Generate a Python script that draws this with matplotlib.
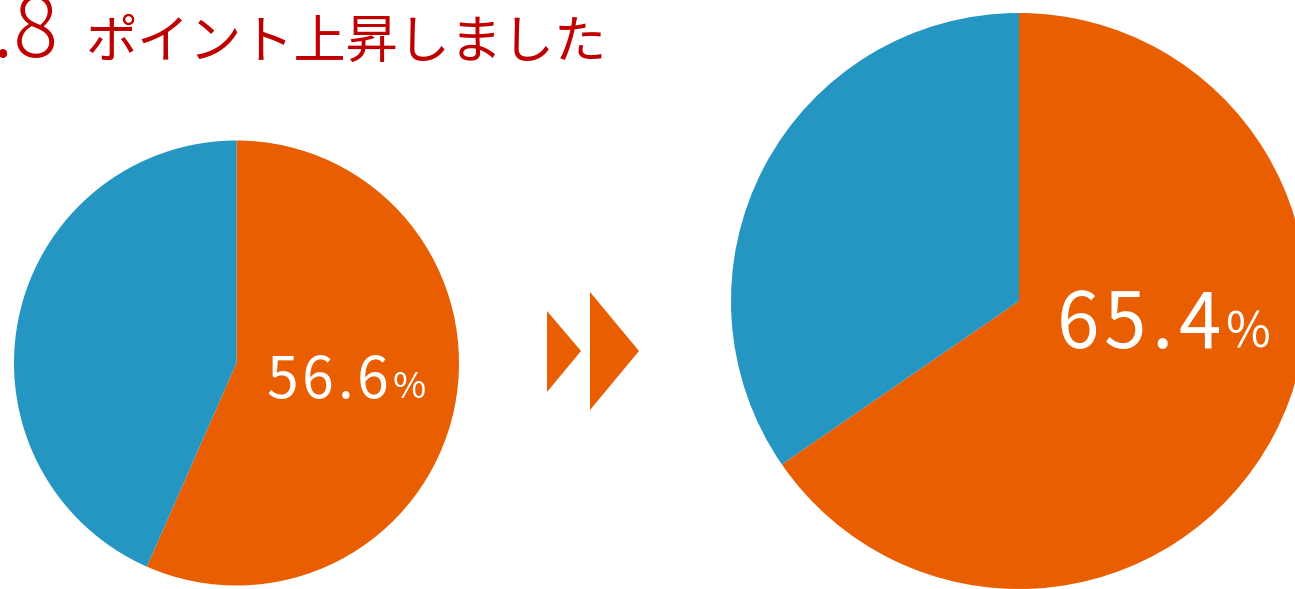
import matplotlib
matplotlib.use("Agg")
import matplotlib.pyplot as plt
from matplotlib.patches import Polygon

# Data
labels = ["該当", "非該当"]
before = [56.6, 100 - 56.6]
after = [65.4, 100 - 65.4]
diff_label = "8.8"
title_text = "ポイント上昇しました"
colors = ["#E85E00", "#2596C1"]
title_color = "#C00000"

W, H = 1295, 589
fig = plt.figure(figsize=(W / 100, H / 100), dpi=100)
ax = fig.add_axes([0, 0, 1, 1])
ax.set_xlim(0, W)
ax.set_ylim(0, H)
ax.set_aspect("equal")
ax.axis("off")

def py(y):
    return H - y

ax.pie(before, colors=colors, startangle=90, counterclock=False,
       center=(236.5, py(363)), radius=222.5, frame=True,
       wedgeprops=dict(linewidth=0))
ax.pie(after, colors=colors, startangle=90, counterclock=False,
       center=(1019, py(301)), radius=288, frame=True,
       wedgeprops=dict(linewidth=0))
ax.set_xlim(0, W)
ax.set_ylim(0, H)
ax.axis("off")

# arrows
ax.add_patch(Polygon([(547, py(311)), (581, py(351)), (547, py(392))],
                     closed=True, color=colors[0], lw=0))
ax.add_patch(Polygon([(590, py(292)), (639, py(351)), (590, py(410))],
                     closed=True, color=colors[0], lw=0))

fig.canvas.draw()
renderer = fig.canvas.get_renderer()
FONT = ["Noto Sans CJK JP", "DejaVu Sans"]

def spaced(x, y, s, size, track, color="white", pct_size=None):
    """draw string char by char with tracking; x,y in pixel coords (baseline)."""
    cx = x
    for ch in s:
        fs = pct_size if (ch == "%" and pct_size) else size
        t = ax.text(cx, py(y), ch, fontsize=fs, color=color, family=FONT,
                    ha="left", va="baseline")
        bb = t.get_window_extent(renderer)
        cx += bb.width + track

def value_str(v):
    return f"{v:.1f}%"

spaced(266, 398, value_str(before[0]), 41, 4, pct_size=26)
spaced(1057, 348, value_str(after[0]), 55, 5, pct_size=35)

# title
ax.text(58, py(57), diff_label, fontsize=60, color=title_color, family=FONT,
        weight="light", ha="right", va="baseline")
ax.text(86, py(58), title_text, fontsize=37.5, color=title_color, family=FONT,
        ha="left", va="baseline")

fig.savefig("out.png", dpi=100)
